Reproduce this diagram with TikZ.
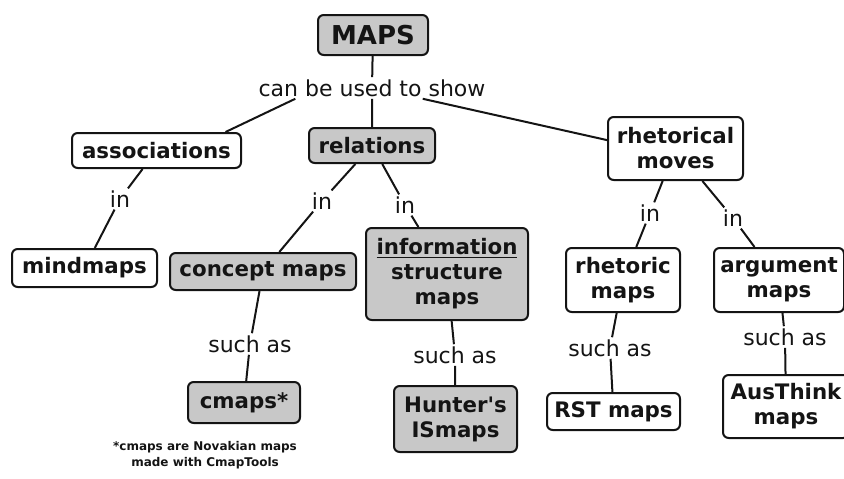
\documentclass[tikz,border=0pt]{standalone}
\usepackage{fontspec}
\setmainfont{DejaVu Sans}
\definecolor{ink}{HTML}{141414}
\definecolor{shade}{HTML}{C8C8C8}
\newcommand\straightquote{\XeTeXglyph\XeTeXcharglyph"27\relax}
\tikzset{every node/.style={font=\fontsize{16}{18.75}\selectfont\bfseries,text=ink,align=center},
concept/.style={draw=ink,line width=1.5pt,rounded corners=1.5mm,fill=white,inner sep=1mm},
key/.style={concept,fill=shade},
link/.style={font=\fontsize{16.5}{18}\selectfont,inner sep=1.5pt},
conn/.style={draw=ink,line width=1.5pt}}
\begin{document}
\begin{tikzpicture}[x=0.75pt,y=-0.75pt]
\useasboundingbox (0,0) rectangle (844,479);
\node[key,font=\fontsize{19.5}{22}\selectfont\bfseries,minimum width=82.5pt,minimum height=30pt] (maps) at (373,35) {MAPS};
\node[link] (show) at (372,88) {can be used to show};
\node[concept,minimum width=126.75pt,minimum height=26.25pt] (assoc) at (156.5,150.5) {associations};
\node[key,minimum width=94.5pt,minimum height=26.25pt] (rel) at (372,145.5) {relations};
\node[concept,minimum width=101.25pt,minimum height=47.25pt] (rhet) at (675.5,148.5) {rhetorical\\moves};
\node[concept,minimum width=108.75pt,minimum height=28.5pt] (mind) at (84.5,268) {mindmaps};
\node[key,minimum width=139.5pt,minimum height=27.75pt] (cmap) at (263,271.5) {concept maps};
\node[key,minimum width=121.5pt,minimum height=69pt] (info) at (447,274) {\underline{information}\\structure\\maps};
\node[concept,minimum width=85.5pt,minimum height=48pt] (rmap) at (623,280) {rhetoric\\maps};
\node[concept,minimum width=97.5pt,minimum height=48pt] (amap) at (779,280) {argument\\maps};
\node[key,minimum width=84pt,minimum height=30.75pt] (cmaps) at (244,402.5) {cmaps*};
\node[key,minimum width=92.25pt,minimum height=49.5pt] (hunter) at (455.5,419) {Hunter\straightquote s\\ISmaps};
\node[concept,minimum width=99.75pt,minimum height=27.75pt] (rst) at (613.5,411.5) {RST maps};
\node[concept,minimum width=94.5pt,minimum height=47.25pt] (aus) at (786,406.5) {AusThink\\maps};
\node[font=\fontsize{9}{12}\selectfont\bfseries] (note) at (205,455) {*cmaps are Novakian maps\\made with CmapTools};
\node[link] (in1) at (120,199) {in};
\node[link] (in2) at (322,201) {in};
\node[link] (in3) at (405,205) {in};
\node[link] (in4) at (650,213) {in};
\node[link] (in5) at (733,218) {in};
\node[link] (such1) at (250,344) {such as};
\node[link] (such2) at (455,355) {such as};
\node[link] (such3) at (610,348) {such as};
\node[link] (such4) at (785,337) {such as};
\draw[conn] (maps) -- (show) -- (rel);
\draw[conn] (show.188) -- (assoc.15);
\draw[conn] (show.-12) -- (rhet.173);
\draw[conn] (assoc) -- (in1) -- (mind);
\draw[conn] (rel) -- (in2) -- (cmap);
\draw[conn] (rel) -- (in3) -- (info);
\draw[conn] (rhet) -- (in4) -- (rmap);
\draw[conn] (rhet) -- (in5) -- (amap);
\draw[conn] (cmap) -- (such1) -- (cmaps);
\draw[conn] (info) -- (such2) -- (hunter);
\draw[conn] (rmap) -- (such3) -- (rst);
\draw[conn] (amap) -- (such4) -- (aus);
\end{tikzpicture}
\end{document}
